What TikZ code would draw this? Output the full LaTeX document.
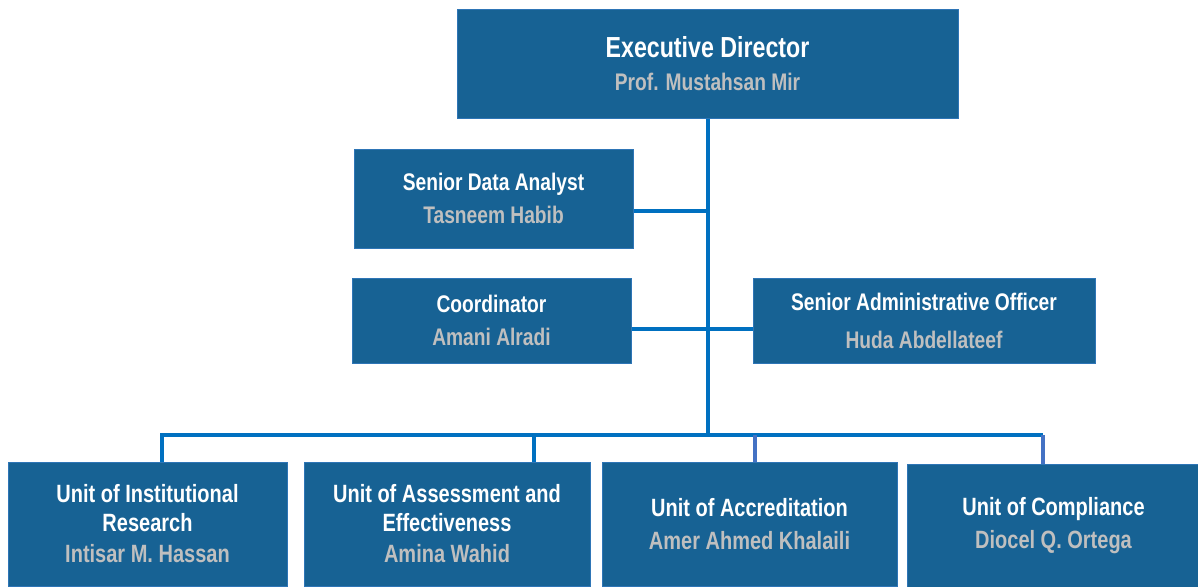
\documentclass[tikz,border=0pt]{standalone}
\usepackage{fontspec}
\setmainfont{Liberation Sans}[FakeStretch=0.8]
\definecolor{boxfill}{RGB}{23,98,148}
\definecolor{boxedge}{RGB}{46,117,182}
\definecolor{linkblue}{RGB}{0,112,192}
\definecolor{linkalt}{RGB}{68,114,196}
\definecolor{namegray}{RGB}{191,191,191}
\newcommand\roleof[2]{#1\\\textcolor{namegray}{#2}}
\tikzset{
  unitbox/.style={draw=boxedge, fill=boxfill, line width=1pt, inner sep=0pt, align=center, text=white,
    font=\bfseries\fontsize{24}{33}\selectfont},
  lowbox/.style={unitbox, minimum height=124pt, font=\bfseries\fontsize{25}{29}\selectfont},
  link/.style={draw=linkblue, line width=4pt, line join=miter},
}
\begin{document}
\begin{tikzpicture}[x=1pt, y=-1pt]
	\useasboundingbox (0,0) rectangle (1198,586);
	\node[unitbox, minimum width=501pt, minimum height=108pt] (exec) at (707.5,64)
		{{\fontsize{29}{35}\selectfont Executive Director}\\\textcolor{namegray}{Prof. Mustahsan Mir}};
	\node[unitbox, minimum width=279pt, minimum height=99pt] (sda) at (493.5,198.5) {\roleof{Senior Data Analyst}{Tasneem Habib}};
	\node[unitbox, minimum width=279pt, minimum height=85pt] (coord) at (491.5,320.5) {\roleof{Coordinator}{Amani Alradi}};
	\node[unitbox, minimum width=342pt, minimum height=85pt] (sao) at (924,320.5) {Senior Administrative Officer\\[5pt]\textcolor{namegray}{Huda Abdellateef}};
	\node[lowbox, minimum width=279pt] (unit1) at (147.5,524) {Unit of Institutional\\Research\\[2pt]\textcolor{namegray}{Intisar M. Hassan}};
	\node[lowbox, minimum width=286pt] (unit2) at (447,524) {Unit of Assessment and\\Effectiveness\\[2pt]\textcolor{namegray}{Amina Wahid}};
	\node[lowbox, minimum width=295pt] (unit3) at (749.5,524) {Unit of Accreditation\\[4pt]\textcolor{namegray}{Amer Ahmed Khalaili}};
	\node[lowbox, minimum width=293pt] (unit4) at (1053.5,526) {Unit of Compliance\\[4pt]\textcolor{namegray}{Diocel Q. Ortega}};
	\coordinate (bus) at (708,435);
	\coordinate (tsda) at (708,211);
	\coordinate (tmid) at (708,329);
	\foreach \n/\x in {unit1/162,unit2/534,unit3/755,unit4/1043} \coordinate (d\n) at (\x,435);
	\draw[link] (exec.south) -- (exec.south |- bus);
	\draw[link] (sda.east |- tsda) -- (tsda);
	\draw[link] (coord.east |- tmid) -- (sao.west |- tmid);
	\draw[link] (dunit1 |- unit1.north) -- (dunit1) -- (dunit4);
	\draw[link] (dunit2) -- (dunit2 |- unit2.north);
	\foreach \n in {unit3,unit4} \draw[link, draw=linkalt] (d\n) -- (d\n |- \n.north);
\end{tikzpicture}
\end{document}
